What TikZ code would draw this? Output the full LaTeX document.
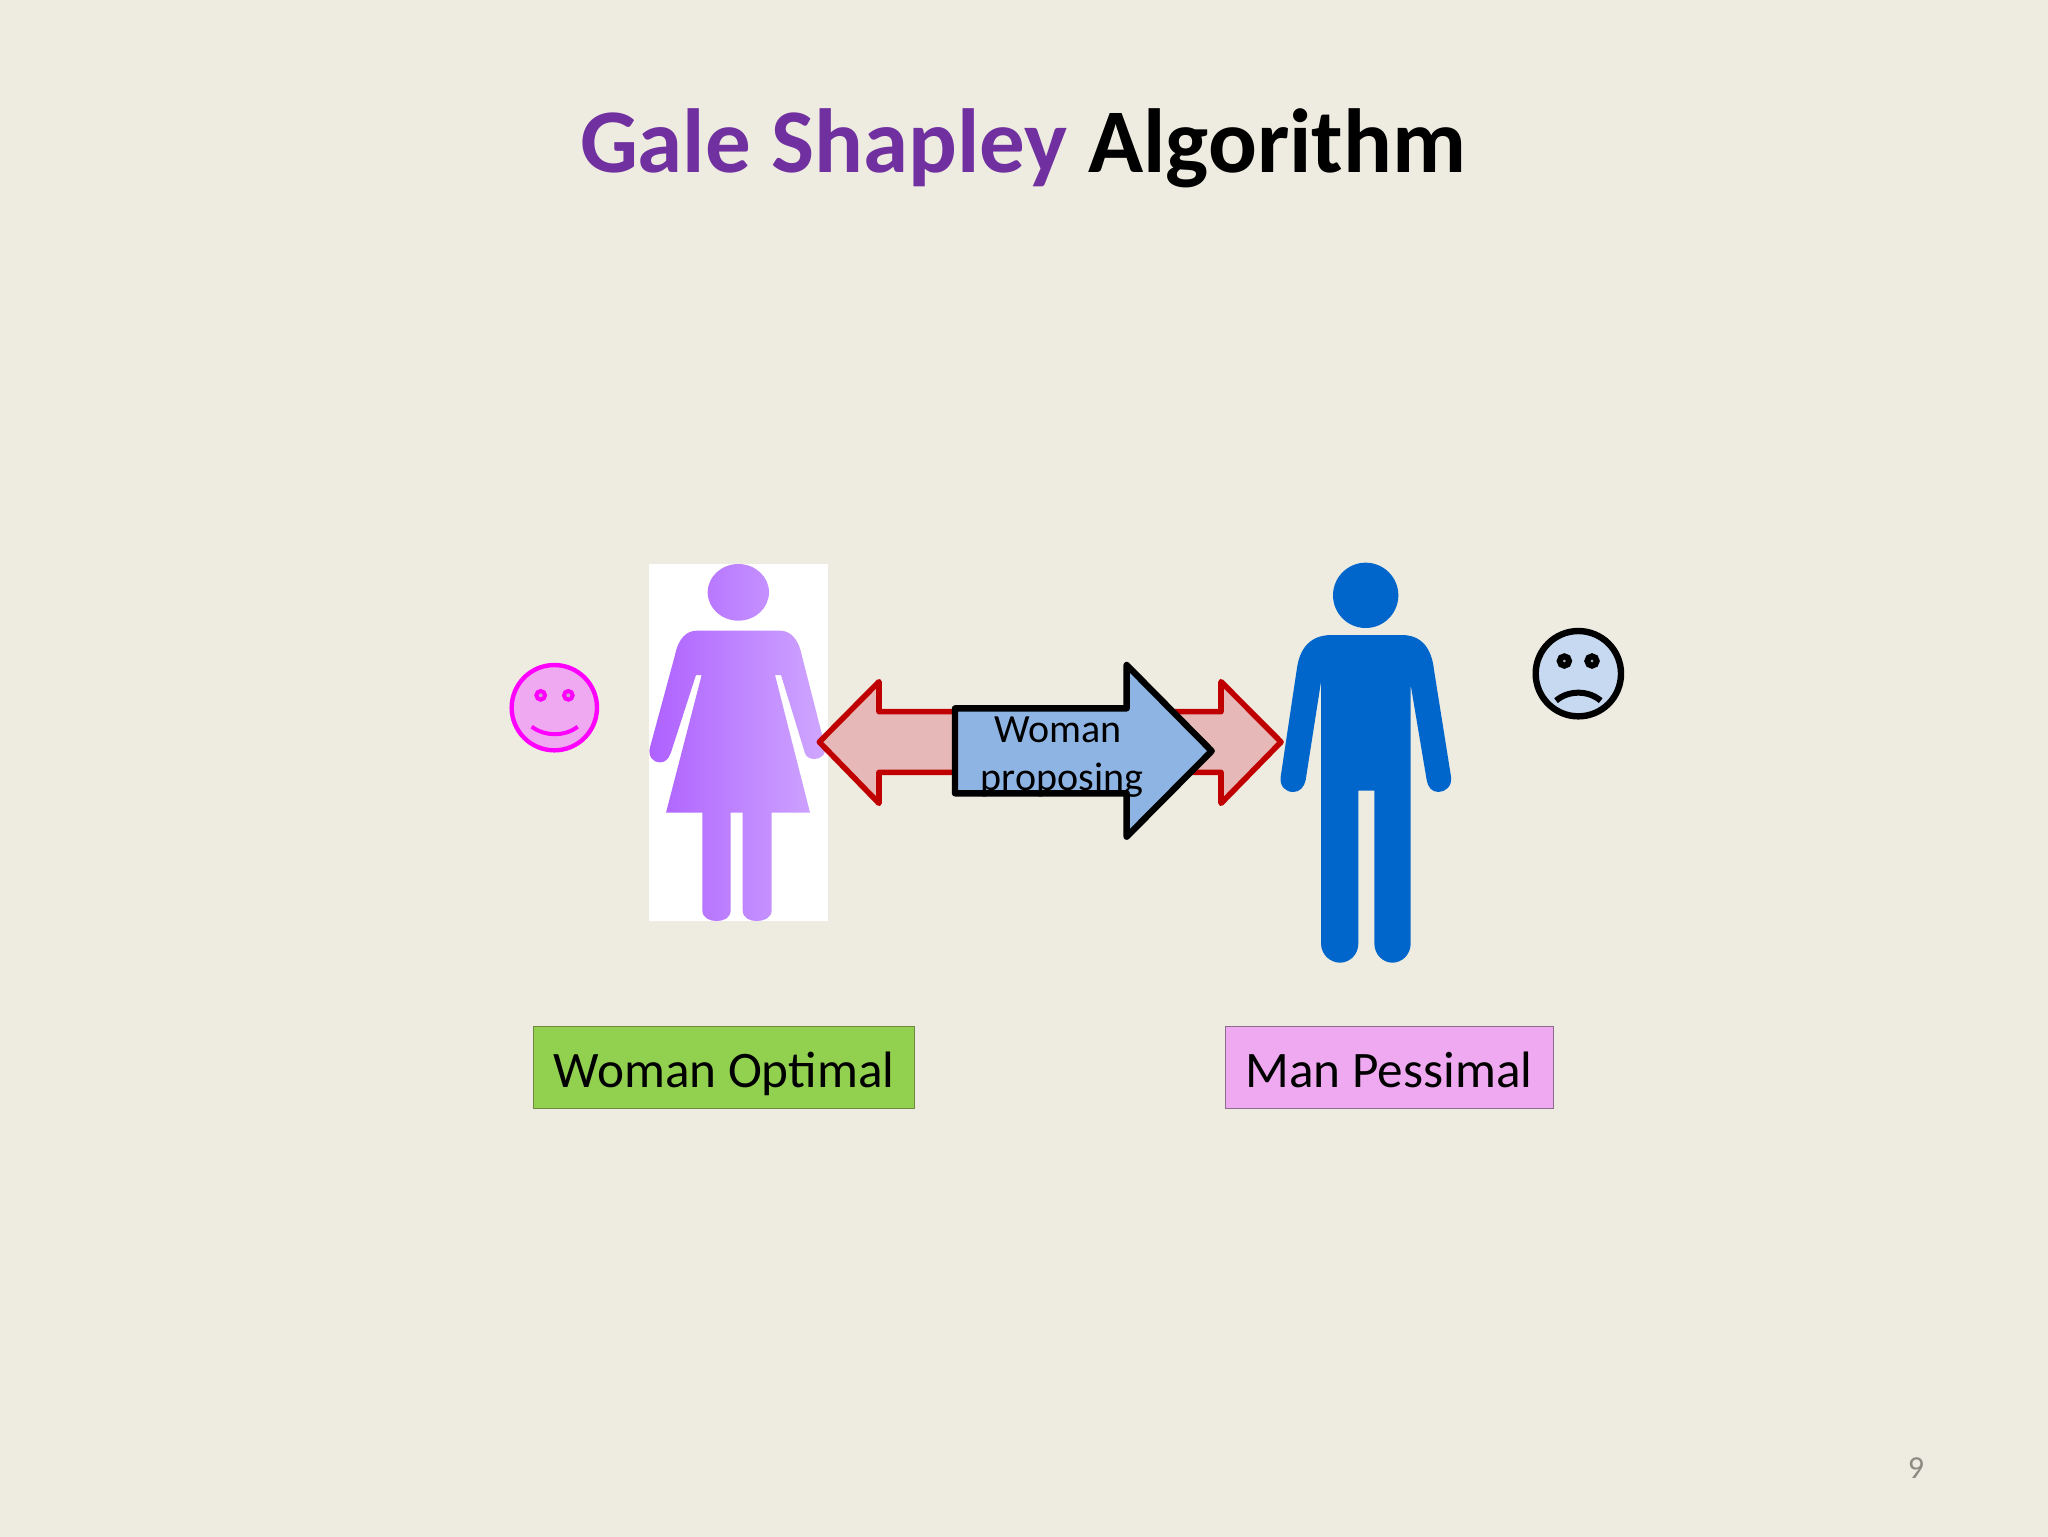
\documentclass[tikz,border=0pt]{standalone}
\usepackage{fontspec}
\setmainfont{Carlito}
\definecolor{bg}{HTML}{EEECE1}
\definecolor{titlepurple}{HTML}{7030A0}
\definecolor{manblue}{HTML}{0066CC}
\definecolor{redline}{HTML}{C00000}
\definecolor{redfill}{HTML}{E6B9B8}
\definecolor{bluefill}{HTML}{8EB4E3}
\definecolor{happyfill}{HTML}{EFA9F0}
\definecolor{happyline}{HTML}{FF00FF}
\definecolor{sadfill}{HTML}{C6D9F1}
\definecolor{greenfill}{HTML}{92D050}
\definecolor{greenline}{HTML}{71893F}
\definecolor{pinkline}{HTML}{8B6C8B}
\definecolor{pagegrey}{HTML}{8B8B83}
\definecolor{womanleft}{HTML}{AE60FF}
\definecolor{womanright}{HTML}{CFA8FF}
\tikzset{
  zoomed/.style={x=0.166667pt,y=-0.166667pt},
  labelbox/.style={draw,line width=0.5pt,inner sep=0pt,minimum height=41pt,text height=26pt,text depth=6.5pt,font=\fontsize{25.6}{31}\selectfont,text=black},
  redarrow/.style={draw=redline,fill=redfill,line width=2.8pt,line join=round},
  bluearrow/.style={draw=black,fill=bluefill,line width=3.2pt,line join=round},
}
\begin{document}
\begin{tikzpicture}[x=0.5pt,y=-0.5pt]
\useasboundingbox (0,0) rectangle (2048,1536);
\fill[bg] (-20,-20) rectangle (2068,1556);
\node[anchor=base,inner sep=0pt,font=\bfseries\fontsize{45.5}{54}\selectfont] (title) at (1023,172) {\textcolor{titlepurple}{Gale Shapley} Algorithm};

% woman
\begin{scope}[shift={(480,540)},zoomed]
\fill[white] (507,72) rectangle (1043,1143);
\shade[left color=womanleft,right color=womanright]
  (775,157) ellipse[x radius=92,y radius=85]
  (650,272) -- (900,272) .. controls (930,272) and (955,295) .. (965,345) -- (1034,615)
  .. controls (1042,645) and (1020,657) .. (1003,657) .. controls (990,657) and (978,650) .. (975,640)
  -- (903,405) -- (885,405) -- (990,818) -- (875,818) -- (875,1110)
  .. controls (875,1135) and (850,1143) .. (830,1143) .. controls (810,1143) and (788,1135) .. (788,1110)
  -- (788,818) -- (752,818) -- (752,1110)
  .. controls (752,1135) and (730,1143) .. (710,1143) .. controls (690,1143) and (667,1135) .. (667,1110)
  -- (667,818) -- (558,818) -- (665,405) -- (648,405) -- (572,640)
  .. controls (565,658) and (555,667) .. (540,667) .. controls (518,667) and (503,648) .. (510,622)
  -- (585,345) .. controls (595,295) and (620,272) .. (650,272) -- cycle;
% happy face
\draw[draw=happyline,fill=happyfill,line width=2.2pt] (223,503) circle[radius=128];
\draw[draw=happyline,fill=happyfill!70!gray,line width=2pt] (182,466) circle[radius=13] (265,466) circle[radius=13];
\draw[draw=happyline,line width=2pt] (155,560) .. controls (195,590) and (255,590) .. (293,560);
\end{scope}

% man
\begin{scope}[shift={(1260,540)},zoomed]
\fill[manblue] (317,166) circle[radius=98]
  (215,285) -- (425,285) .. controls (485,285) and (515,325) .. (522,390) -- (573,710)
  .. controls (577,740) and (555,756) .. (535,756) .. controls (515,756) and (503,740) .. (500,720)
  -- (452,435) -- (452,1210) .. controls (452,1245) and (425,1268) .. (397,1268)
  .. controls (370,1268) and (343,1245) .. (343,1210) -- (343,752) -- (295,752) -- (295,1210)
  .. controls (295,1245) and (268,1268) .. (240,1268) .. controls (212,1268) and (183,1245) .. (183,1210)
  -- (183,425) -- (137,720) .. controls (133,740) and (120,756) .. (100,756)
  .. controls (78,756) and (58,740) .. (62,710) -- (110,390) .. controls (118,325) and (150,285) .. (215,285) -- cycle;
% sad face
\draw[black,fill=sadfill,line width=3.2pt] (955,401) circle[radius=128];
\draw[black,fill=sadfill!50!gray,line width=3pt] (913,363) circle[radius=14] (996,363) circle[radius=14];
\draw[black,line width=3pt] (888,482) .. controls (925,450) and (985,450) .. (1022,482);
\end{scope}

% arrows
\begin{scope}[shift={(800,640)},zoomed]
\draw[redarrow] (58,306) -- (237,125) -- (237,215) -- (1263,215) -- (1263,125) -- (1443,306)
  -- (1263,490) -- (1263,397) -- (237,397) -- (237,490) -- cycle;
\draw[bluearrow] (465,205) -- (980,205) -- (980,75) -- (1235,333) -- (980,590) -- (980,460) -- (465,460) -- cycle;
\end{scope}
\node[align=center,inner sep=0pt,anchor=base,font=\fontsize{20}{24}\selectfont] (proposing) at (1060,790)
  {Woman\hspace*{2pt}\\\hspace*{2pt}proposing};

% labels
\node[labelbox,fill=greenfill,draw=greenline,minimum width=190.5pt] (optimal) at (724,1067.5) {Woman Optimal};
\node[labelbox,fill=happyfill,draw=pinkline,minimum width=164pt] (pessimal) at (1389,1067.5) {Man Pessimal};

\node[anchor=base,inner sep=0pt,text=pagegrey,font=\fontsize{16}{20}\selectfont] (pagenum) at (1916,1478) {9};
\end{tikzpicture}
\end{document}
